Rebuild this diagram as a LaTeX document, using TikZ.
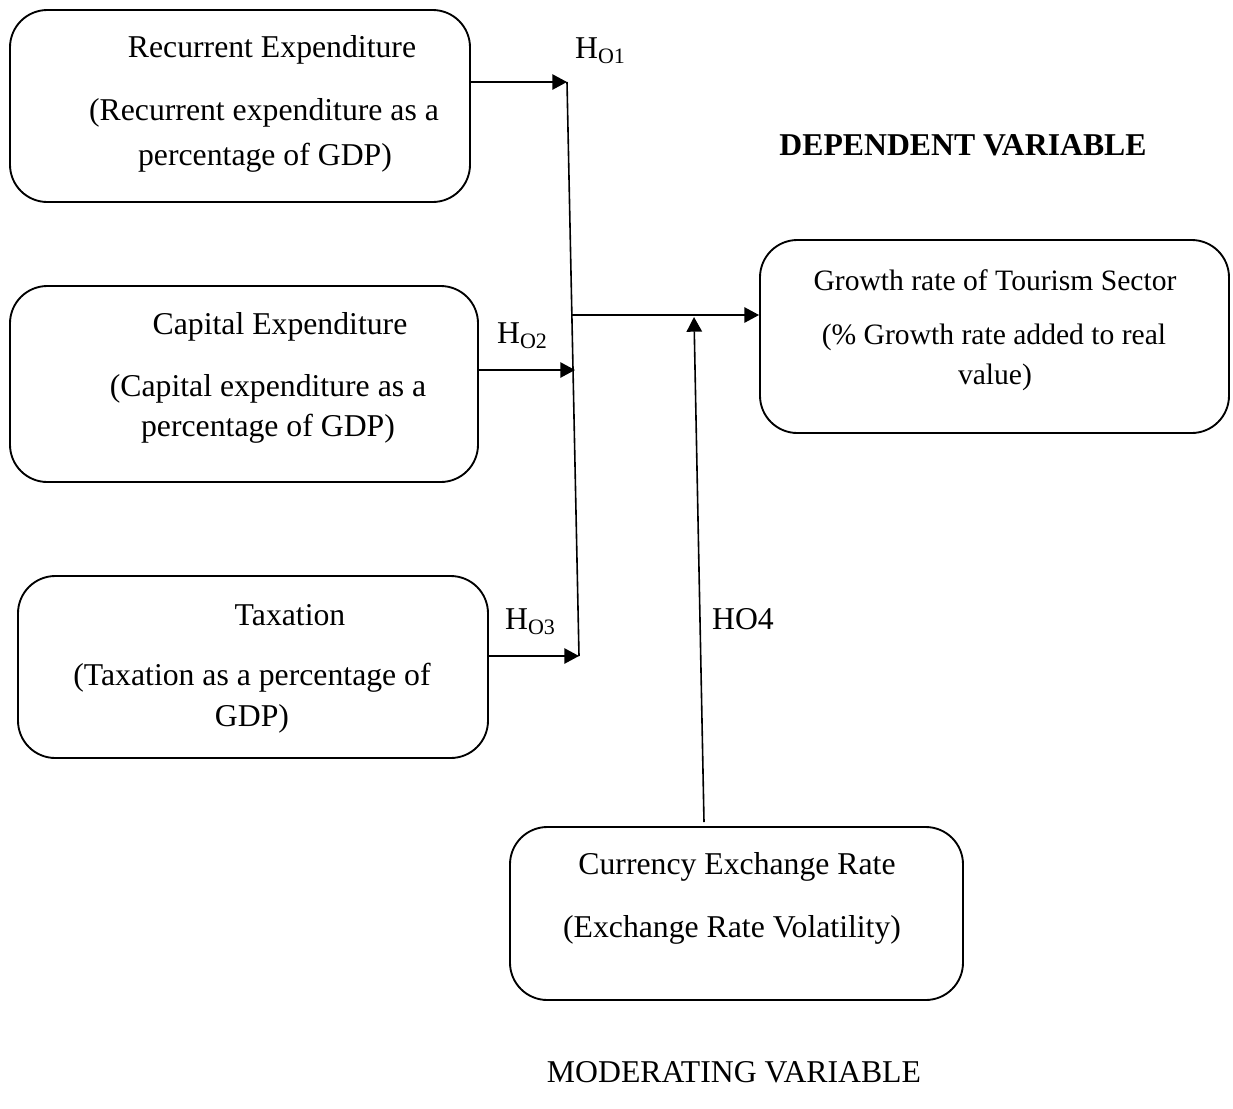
\documentclass[tikz,border=0pt]{standalone}
\usepackage{fontspec}
\setmainfont{Liberation Serif}
\usetikzlibrary{arrows.meta}
\newcommand{\Hsub}[1]{H\raisebox{-0.35ex}{\fontsize{16.5}{16.5}\selectfont O#1}}
\begin{document}
\begin{tikzpicture}[x=0.75pt,y=-0.75pt,
 box/.style={draw,line width=1.4pt,rounded corners=28pt,inner sep=0pt},
 txt/.style={font=\fontsize{23.8}{28}\selectfont,inner sep=0pt},
 stxt/.style={font=\fontsize{22.2}{26}\selectfont,inner sep=0pt},
 arr/.style={line width=1.2pt,-{Triangle[length=11pt,width=11.5pt]}},
 ln/.style={line width=1.2pt}]
\useasboundingbox (0,0) rectangle (1233,1108);
% boxes
\node[box,minimum width=345pt,minimum height=144pt] (b1) at (240,106) {};
\node[box,minimum width=351pt,minimum height=147pt] (b2) at (244,384) {};
\node[box,minimum width=352.5pt,minimum height=136.5pt] (b3) at (253,667) {};
\node[box,minimum width=351.75pt,minimum height=144.75pt] (b4) at (994.5,336.5) {};
\node[box,minimum width=339.75pt,minimum height=129.75pt] (b5) at (736.5,913.5) {};
% texts
\node[txt] (t11) at (272,50) {Recurrent Expenditure};
\node[txt] (t12) at (264,113) {(Recurrent expenditure as a};
\node[txt] (t13) at (265,158) {percentage of GDP)};
\node[txt] (t21) at (280,327) {Capital Expenditure};
\node[txt] (t22) at (268,389) {(Capital expenditure as a};
\node[txt] (t23) at (268,429) {percentage of GDP)};
\node[txt] (t31) at (290,615) {Taxation};
\node[txt] (t32) at (252,678) {(Taxation as a percentage of};
\node[txt] (t33) at (252,719) {GDP)};
\node[stxt] (t41) at (995,280) {Growth rate of Tourism Sector};
\node[stxt] (t42) at (994,337) {(\% Growth rate added to real};
\node[stxt] (t43) at (995,377) {value)};
\node[txt] (t51) at (737,867) {Currency Exchange Rate};
\node[txt] (t52) at (732,930) {(Exchange Rate Volatility)};
% labels
\node[txt] (h1) at (600,51) {\Hsub{1}};
\node[txt] (h2) at (522,336) {\Hsub{2}};
\node[txt] (h3) at (530,622) {\Hsub{3}};
\node[txt] (h4l) at (743,619) {HO4};
\node[txt,font=\fontsize{23.8}{28}\selectfont\bfseries] (dep) at (963,145) {DEPENDENT VARIABLE};
\node[txt] (mod) at (734,1072) {MODERATING VARIABLE};
% connectors
\coordinate (j1) at (567,82);
\coordinate (j2) at (575,370);
\coordinate (j3) at (579,656);
\coordinate (m0) at (571,315);
\coordinate (k0) at (704,822);
\coordinate (k1) at (694,317);
\draw[arr] (b1.east |- j1) -- (j1);
\draw[ln] (j1) -- (j3);
\draw[arr] (b2.east |- j2) -- (j2);
\draw[arr] (b3.east |- j3) -- (j3);
\draw[arr] (m0) -- (b4.west |- m0);
\draw[arr] (k0) -- (k1);
\end{tikzpicture}
\end{document}
